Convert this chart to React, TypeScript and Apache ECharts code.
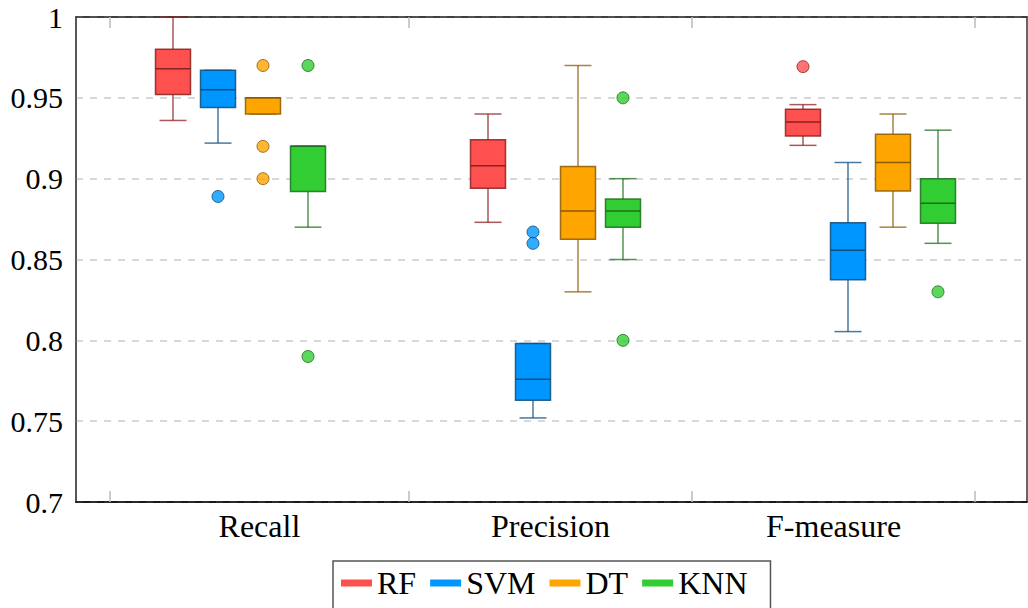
import React, { useEffect, useRef } from "react";
import * as echarts from "echarts";

const categories = ["Recall", "Precision", "F-measure"];
const models = ["RF", "SVM", "DT", "KNN"];

// [low whisker, Q1, median, Q3, high whisker] per category
const rfBoxes = [
  [0.936, 0.952, 0.968, 0.98, 1.0],
  [0.873, 0.894, 0.908, 0.924, 0.94],
  [0.9206, 0.9264, 0.935, 0.943, 0.9458],
];
const svmBoxes = [
  [0.922, 0.944, 0.955, 0.967, 0.967],
  [0.752, 0.763, 0.776, 0.798, 0.798],
  [0.8054, 0.8375, 0.8557, 0.8728, 0.91],
];
const dtBoxes = [
  [0.94, 0.94, 0.95, 0.95, 0.95],
  [0.83, 0.8625, 0.88, 0.9075, 0.97],
  [0.87, 0.8924, 0.91, 0.9274, 0.94],
];
const knnBoxes = [
  [0.87, 0.892, 0.92, 0.92, 0.92],
  [0.85, 0.87, 0.88, 0.8875, 0.9],
  [0.86, 0.8724, 0.8848, 0.9, 0.93],
];

// outliers per category
const rfOutliers = [[], [], [0.9693]];
const svmOutliers = [[0.889], [0.867, 0.86], []];
const dtOutliers = [[0.97, 0.92, 0.9], [], []];
const knnOutliers = [[0.97, 0.79], [0.95, 0.8], [0.83]];

const yTicks = [0.7, 0.75, 0.8, 0.85, 0.9, 0.95, 1];

const allBoxes = [rfBoxes, svmBoxes, dtBoxes, knnBoxes];
const allOutliers = [rfOutliers, svmOutliers, dtOutliers, knnOutliers];

const fills = ["#FF5050", "#0096FF", "#FFA500", "#32CD32"];
const darks = ["#8B2020", "#0B4C7E", "#8B5A00", "#1B6E1B"];
const whiskers = ["rgba(139,32,32,0.75)", "rgba(11,76,126,0.75)", "rgba(139,90,0,0.75)", "rgba(27,110,27,0.75)"];

const slot = (c: number, m: number) => c * 7 + m + 1;
const tickPositions = [-0.4, 6.244, 12.533, 18.82];
const labelPositions = [2.92, 9.39, 15.68];
const FONT = "Liberation Serif";

export default function App() {
  const ref = useRef<HTMLDivElement>(null);
  useEffect(() => {
    if (!ref.current) return;
    const chart = echarts.init(ref.current, undefined, { renderer: "svg" });

    const boxSeries = models.map((name, m) => ({
      name,
      type: "custom",
      xAxisIndex: 0,
      yAxisIndex: 0,
      itemStyle: { color: fills[m] },
      encode: { x: 0, y: [1, 2, 3, 4, 5] },
      data: allBoxes[m].map((b, c) => [slot(c, m), ...b]),
      renderItem: (params: any, api: any) => {
        const x = api.value(0);
        const lo = api.coord([x, api.value(1)]);
        const q1 = api.coord([x, api.value(2)]);
        const md = api.coord([x, api.value(3)]);
        const q3 = api.coord([x, api.value(4)]);
        const hi = api.coord([x, api.value(5)]);
        const cx = lo[0];
        const hb = 17.5;
        const hc = 13.5;
        const wStyle = { stroke: whiskers[m], lineWidth: 1.5 };
        return {
          type: "group",
          children: [
            { type: "line", shape: { x1: cx, y1: hi[1], x2: cx, y2: q3[1] }, style: wStyle },
            { type: "line", shape: { x1: cx, y1: q1[1], x2: cx, y2: lo[1] }, style: wStyle },
            { type: "line", shape: { x1: cx - hc, y1: hi[1], x2: cx + hc, y2: hi[1] }, style: wStyle },
            { type: "line", shape: { x1: cx - hc, y1: lo[1], x2: cx + hc, y2: lo[1] }, style: wStyle },
            {
              type: "rect",
              shape: { x: cx - hb, y: q3[1], width: hb * 2, height: q1[1] - q3[1] },
              style: { fill: fills[m], stroke: darks[m], lineWidth: 1.5, strokeOpacity: 0.85 },
            },
            {
              type: "line",
              shape: { x1: cx - hb, y1: md[1], x2: cx + hb, y2: md[1] },
              style: { stroke: darks[m], lineWidth: 1.5 },
            },
          ],
        };
      },
      z: 3,
    }));

    const outlierSeries = models.map((name, m) => ({
      name: name + " outliers",
      type: "scatter",
      symbol: "circle",
      symbolSize: 12,
      itemStyle: { color: fills[m], borderColor: darks[m], borderWidth: 1 },
      data: allOutliers[m].flatMap((vals, c) => vals.map((v) => [slot(c, m), v])),
      z: 4,
    }));

    const option: any = {
      animation: false,
      textStyle: { fontFamily: FONT },
      grid: {
        left: 76,
        right: 1,
        top: 17,
        bottom: 106,
        show: true,
        borderColor: "#333",
        borderWidth: 1.5,
        backgroundColor: "transparent",
      },
      legend: {
        data: models,
        left: 333,
        top: 561,
        orient: "horizontal",
        icon: "rect",
        itemWidth: 31,
        itemHeight: 7,
        itemGap: 14,
        padding: [6, 23, 20, 8],
        borderColor: "#555",
        borderWidth: 1.5,
        textStyle: { fontFamily: FONT, fontSize: 32, color: "#000", lineHeight: 32 },
        itemStyle: { borderWidth: 0 },
      },
      xAxis: [
        {
          type: "value",
          position: "bottom",
          min: -1.1556,
          max: 19.978,
          axisLine: { show: true, onZero: false, lineStyle: { color: "#000", width: 1.5 } },
          axisTick: {
            show: true,
            inside: true,
            length: 11,
            customValues: tickPositions,
            lineStyle: { color: "#bbb", width: 1.5 },
          },
          axisLabel: {
            show: true,
            customValues: labelPositions,
            margin: 8,
            fontFamily: FONT,
            fontSize: 32,
            color: "#000",
            formatter: (v: number) => {
              let best = 0;
              labelPositions.forEach((p, i) => {
                if (Math.abs(p - v) < Math.abs(labelPositions[best] - v)) best = i;
              });
              return categories[best];
            },
          },
          splitLine: { show: false },
        },
        {
          type: "value",
          position: "top",
          min: -1.1556,
          max: 19.978,
          axisLine: { show: true, onZero: false, lineStyle: { color: "#333", width: 1.5 } },
          axisTick: {
            show: true,
            inside: true,
            length: 11,
            customValues: tickPositions,
            lineStyle: { color: "#bbb", width: 1.5 },
          },
          axisLabel: { show: false },
          splitLine: { show: false },
        },
      ],
      yAxis: {
        type: "value",
        position: "left",
        min: yTicks[0],
        max: yTicks[yTicks.length - 1],
        interval: 0.05,
        axisLine: { show: true, onZero: false, lineStyle: { color: "#555", width: 1.5 } },
        axisTick: { show: false },
        axisLabel: {
          margin: 13,
          fontFamily: FONT,
          fontSize: 30,
          color: "#000",
          formatter: (v: number) => String(parseFloat(v.toFixed(2))),
        },
        splitLine: { show: true, lineStyle: { color: "#ccc", type: [7, 7], width: 1.5 } },
      },
      series: [...boxSeries, ...outlierSeries],
    };

    chart.setOption(option);
    return () => chart.dispose();
  }, []);

  return (
    <div
      ref={ref}
      style={{ position: "fixed", left: 0, top: 0, width: 1028, height: 608, background: "#fff" }}
    />
  );
}
